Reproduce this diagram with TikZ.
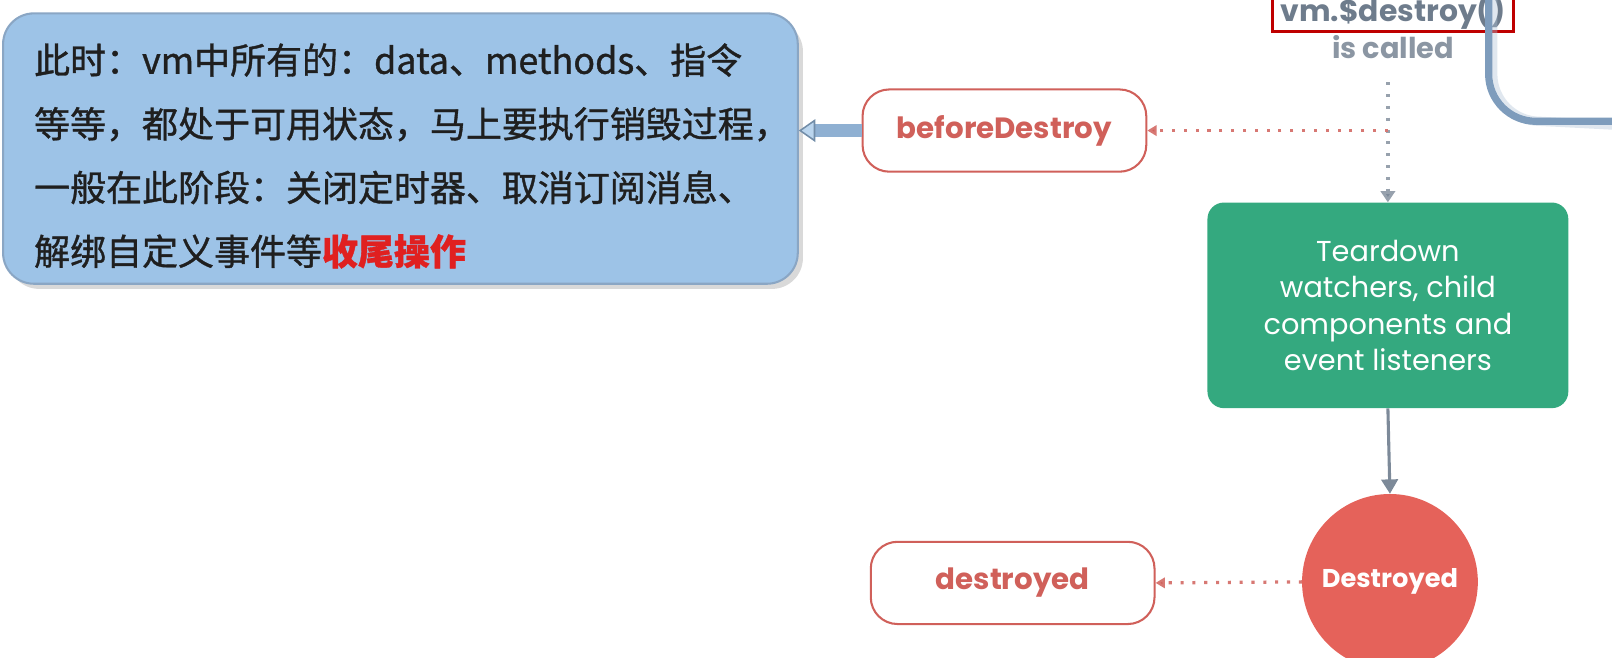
\documentclass[tikz,border=0pt]{standalone}
\usepackage{fontspec}
\setmainfont{Poppins}
\newfontfamily\cjk[FakeBold=1]{Noto Sans CJK SC}
\usetikzlibrary{arrows.meta}
\definecolor{boxblue}{HTML}{9DC3E7}
\definecolor{boxedge}{HTML}{8AA6C4}
\definecolor{hookred}{HTML}{D0605A}
\definecolor{vgreen}{HTML}{34A97F}
\definecolor{vred}{HTML}{E5625A}
\definecolor{lgray}{HTML}{7D8A99}
\definecolor{steel}{HTML}{7E9CBC}
\definecolor{txtgray}{HTML}{6E7C8C}
\definecolor{pointer}{HTML}{8FB0D2}
\begin{document}
\begin{tikzpicture}[x=1pt,y=-1pt,
  hook/.style={draw=hookred,line width=2pt,rounded corners=26pt,fill=white,
    minimum width=276pt,minimum height=80pt,text=hookred,
    font=\fontsize{28.5}{32}\selectfont\bfseries},
  dotred/.style={draw=hookred!85,line width=3.2pt,dash pattern=on 3pt off 8.5pt,
    -{Triangle[length=9pt,width=10pt,fill=hookred]}},
  dotgray/.style={draw=lgray!80,line width=3.2pt,dash pattern=on 3pt off 8.5pt,
    -{Triangle[length=11pt,width=14pt,fill=lgray]}},
  solidgray/.style={draw=lgray,line width=3pt,-{Triangle[length=14pt,width=16pt]}}
]
\useasboundingbox (0,0) rectangle (1568,640);
% callout shadow and box
\fill[black,opacity=0.15,rounded corners=30pt] (8,20) rectangle (781,281);
\node[draw=boxedge,line width=2pt,fill=boxblue,rounded corners=30pt,
  minimum width=773pt,minimum height=263pt,anchor=north west,inner sep=0pt] (note) at (2,12) {};
\node[anchor=north west,align=left,inner sep=0pt,text=black!88,
  font=\cjk\fontsize{35}{62}\selectfont] (notetext) at (33,42)
  {此时：vm中所有的：data、methods、指令\\
   等等，都处于可用状态，马上要执行销毁过程，\\
   一般在此阶段：关闭定时器、取消订阅消息、\\
   解绑自定义事件等{\color[HTML]{E02020}\bfseries 收尾操作}};
% hooks
\node[hook] (bd) at (977,127) {beforeDestroy};
\node[hook] (dd) at (985,567) {destroyed};
% callout pointer
\draw[draw=pointer,line width=12pt,
  -{Triangle[length=16pt,width=22pt,fill=boxblue!70!white,color=pointer!80!black,line width=1.5pt]}]
  (bd.west) -- (note.east |- bd.west);
% top call
\node[draw=red!75!black,line width=2.5pt,minimum width=234pt,minimum height=52pt,
  anchor=south,inner sep=0pt] (call) at (1355,32) {};
\node[text=txtgray,font=\fontsize{29}{32}\selectfont\bfseries] (calltext) at (1355,12) {vm.\$destroy()};
\node[text=txtgray!80,font=\fontsize{28}{32}\selectfont\bfseries] (called) at (1355,46) {is called};
% blue flow line at right
\draw[steel!60,line width=9pt,opacity=0.4] (1452,-5) -- (1452,72) arc[start angle=180,end angle=90,radius=46] -- (1575,122);
\draw[steel,line width=7pt] (1448,-5) -- (1448,72) arc[start angle=180,end angle=90,radius=46] -- (1575,118);
% green box
\node[fill=vgreen,rounded corners=16pt,minimum width=351pt,minimum height=200pt,
  text=white,align=center,font=\fontsize{28}{35.5}\selectfont] (tear) at (1350,297)
  {Teardown\\watchers, child\\components and\\event listeners};
% destroyed circle
\node[circle,fill=vred,minimum size=171pt,inner sep=0pt,text=white,
  font=\fontsize{25}{28}\selectfont\bfseries] (circ) at (1352,566) {Destroyed};
% connectors
\coordinate (vtop) at (1350,80);
\coordinate (junc) at (1350,127);
\draw[dotgray] (vtop) -- (tear.north);
\draw[dotred] (junc) -- (bd.east);
\draw[solidgray] (tear.south) -- (circ.north);
\draw[dotred] (circ.west) -- (dd.east);
\end{tikzpicture}
\end{document}
